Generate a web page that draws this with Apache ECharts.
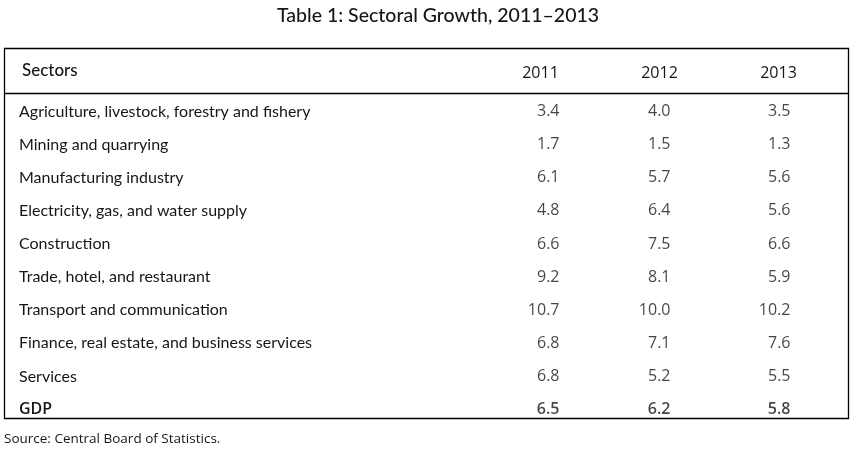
<!DOCTYPE html>
<html>
<head>
<meta charset="utf-8">
<script src="https://cdn.jsdelivr.net/npm/echarts@6/dist/echarts.min.js"></script>
<style>
  html, body { margin: 0; padding: 0; background: #fff; }
  #main { width: 854px; height: 449px; }
</style>
</head>
<body>
<div id="main"></div>
<script>
// table content
const years = ['2011', '2012', '2013'];
const sectors = [
  'Agriculture, livestock, forestry and fishery',
  'Mining and quarrying',
  'Manufacturing industry',
  'Electricity, gas, and water supply',
  'Construction',
  'Trade, hotel, and restaurant',
  'Transport and communication',
  'Finance, real estate, and business services',
  'Services',
  'GDP'
];
const growth2011 = [3.4, 1.7, 6.1, 4.8, 6.6, 9.2, 10.7, 6.8, 6.8, 6.5];
const growth2012 = [4.0, 1.5, 5.7, 6.4, 7.5, 8.1, 10.0, 7.1, 5.2, 6.2];
const growth2013 = [3.5, 1.3, 5.6, 5.6, 6.6, 5.9, 10.2, 7.6, 5.5, 5.8];

(function () {
  const chart = echarts.init(document.getElementById('main'));
  const cols = [growth2011, growth2012, growth2013];
  const colShift = [19, 11, 12];   // right edge of numbers relative to column centre
  const ink = '#161616';
  const textFont = 'Lato';
  const numFont = 'Open Sans';

  const cells = [];
  cols.forEach(function (col, c) {
    col.forEach(function (v, r) {
      cells.push({
        value: [years[c], sectors[r], v],
        label: {
          offset: [colShift[c], 0],
          fontWeight: sectors[r] === 'GDP' ? 600 : 'normal'
        }
      });
    });
  });

  const option = {
    animation: false,
    title: {
      text: 'Table 1: Sectoral Growth, 2011\u20132013',
      left: 272,
      top: 1,
      textStyle: { fontFamily: textFont, fontSize: 19.5, fontWeight: 500, color: ink }
    },
    grid: { left: 481, right: 16, top: 95, bottom: 23 },
    xAxis: {
      type: 'category',
      position: 'top',
      data: years,
      axisLine: { show: false },
      axisTick: { show: false },
      splitLine: { show: false },
      axisLabel: { fontFamily: numFont, fontSize: 16, color: ink, margin: 14 }
    },
    yAxis: {
      type: 'category',
      inverse: true,
      data: sectors,
      axisLine: { show: false },
      axisTick: { show: false },
      splitLine: { show: false },
      axisLabel: {
        align: 'left',
        margin: 462,
        fontFamily: textFont,
        fontSize: 16,
        color: ink,
        formatter: function (v) { return v === 'GDP' ? '{b|' + v + '}' : v; },
        rich: { b: { fontFamily: numFont, fontSize: 16, fontWeight: 600, color: ink } }
      }
    },
    series: [{
      type: 'scatter',
      symbolSize: 0,
      data: cells,
      label: {
        show: true,
        position: 'inside',
        align: 'right',
        fontFamily: numFont,
        fontSize: 16,
        color: ink,
        formatter: function (p) { return p.value[2].toFixed(1); }
      }
    }],
    graphic: [
      { type: 'rect', shape: { x: 4.5, y: 48.5, width: 844, height: 370 },
        style: { fill: 'none', stroke: '#000', lineWidth: 1.3 } },
      { type: 'line', shape: { x1: 4.5, y1: 93.5, x2: 848.5, y2: 93.5 },
        style: { stroke: '#000', lineWidth: 1.3 } },
      { type: 'text', left: 22, top: 62,
        style: { text: 'Sectors', fontFamily: textFont, fontSize: 17, fontWeight: 500, fill: ink } },
      { type: 'text', left: 4, top: 432,
        style: { text: 'Source: Central Board of Statistics.', fontFamily: numFont, fontSize: 13.5, fill: ink } }
    ]
  };

  chart.setOption(option);
  window.addEventListener('resize', function () { chart.resize(); });
})();
</script>
</body>
</html>
